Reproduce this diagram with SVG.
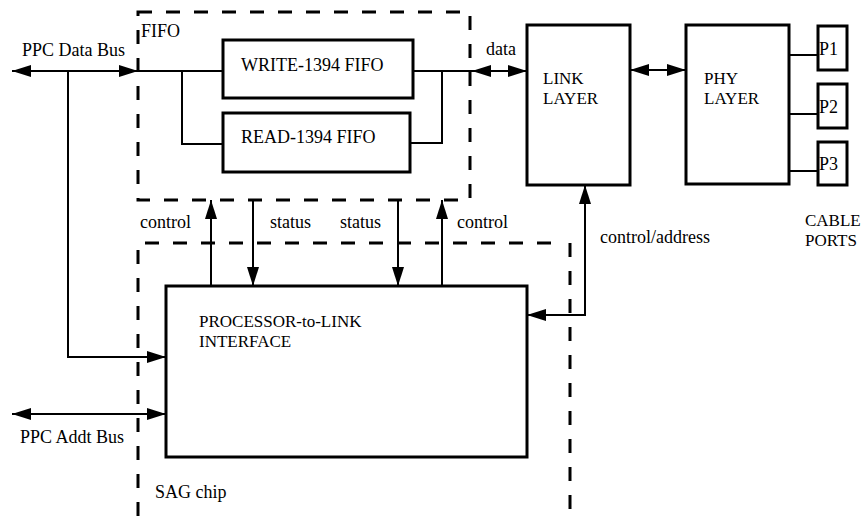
<svg xmlns="http://www.w3.org/2000/svg" width="867" height="516" viewBox="0 0 867 516">
<style>
.box{fill:none;stroke:#000;stroke-width:3}
.dash{fill:none;stroke:#000;stroke-width:3;stroke-dasharray:14 14}
.ln{fill:none;stroke:#000;stroke-width:2}
.arr{marker-end:url(#ah)}
.arr2{marker-start:url(#ah);marker-end:url(#ah)}
text{font-family:"Liberation Serif","Times New Roman",serif;font-size:18px;fill:#000}
.sm{font-size:17px}
</style>
<defs>
<marker id="ah" markerUnits="userSpaceOnUse" markerWidth="20" markerHeight="12" refX="19" refY="6" orient="auto-start-reverse">
<path d="M0,0 L19,6 L0,12 z" fill="#000"/>
</marker>
</defs>
<g id="fifo-region">
<rect class="dash" x="138" y="12" width="332" height="188"/>
<text x="141" y="37">FIFO</text>
</g>
<g id="sag-region">
<path class="dash" d="M138,516 V243 H557"/>
<path class="dash" d="M570,243 V516"/>
<text x="155" y="498">SAG chip</text>
</g>
<g id="write-fifo">
<rect class="box" x="223" y="40" width="190" height="58"/>
<text x="241" y="71">WRITE-1394 FIFO</text>
</g>
<g id="read-fifo">
<rect class="box" x="223" y="113" width="187" height="59"/>
<text x="241" y="143">READ-1394 FIFO</text>
</g>
<g id="link-layer">
<rect class="box" x="527" y="25" width="103" height="160"/>
<text class="sm" x="543" y="84">LINK</text>
<text class="sm" x="543" y="104">LAYER</text>
</g>
<g id="phy-layer">
<rect class="box" x="686" y="25" width="103" height="159"/>
<text class="sm" x="704" y="84">PHY</text>
<text class="sm" x="704" y="104">LAYER</text>
</g>
<g id="p1">
<rect class="box" x="818" y="26" width="29" height="44"/>
<text x="819" y="55">P1</text>
</g>
<g id="p2">
<rect class="box" x="818" y="84" width="29" height="44"/>
<text x="819" y="113">P2</text>
</g>
<g id="p3">
<rect class="box" x="818" y="142" width="29" height="43"/>
<text x="819" y="170">P3</text>
</g>
<g id="cable-ports">
<text class="sm" x="805" y="226">CABLE</text>
<text class="sm" x="805" y="246">PORTS</text>
</g>
<g id="pli">
<rect class="box" x="166" y="286" width="361" height="171"/>
<text class="sm" x="199" y="327">PROCESSOR-to-LINK</text>
<text class="sm" x="199" y="347">INTERFACE</text>
</g>
<g id="connectors">
<line class="ln arr2" x1="12" y1="71" x2="138" y2="71"/>
<line class="ln" x1="138" y1="71" x2="223" y2="71"/>
<path class="ln" d="M182,71 V144 H223"/>
<path class="ln arr" d="M68,71 V357 H166"/>
<line class="ln" x1="413" y1="71" x2="472" y2="71"/>
<path class="ln" d="M442,71 V143 H410"/>
<line class="ln arr2" x1="472" y1="71" x2="527" y2="71"/>
<line class="ln arr2" x1="630" y1="70" x2="686" y2="70"/>
<line class="ln" x1="789" y1="55" x2="818" y2="55"/>
<line class="ln" x1="789" y1="114" x2="818" y2="114"/>
<line class="ln" x1="789" y1="171" x2="818" y2="171"/>
<path class="ln arr2" d="M527,315 H585 V185"/>
<line class="ln arr2" x1="12" y1="414" x2="166" y2="414"/>
<line class="ln arr" x1="211" y1="286" x2="211" y2="200"/>
<line class="ln arr" x1="253" y1="200" x2="253" y2="286"/>
<line class="ln arr" x1="398" y1="200" x2="398" y2="286"/>
<line class="ln arr" x1="442" y1="286" x2="442" y2="200"/>
</g>
<g id="labels">
<text x="22" y="56">PPC Data Bus</text>
<text x="486" y="55">data</text>
<text x="140" y="228">control</text>
<text x="270" y="228">status</text>
<text x="340" y="228">status</text>
<text x="457" y="228">control</text>
<text x="600" y="243">control/address</text>
<text x="20" y="443">PPC Addt Bus</text>
</g>
</svg>
